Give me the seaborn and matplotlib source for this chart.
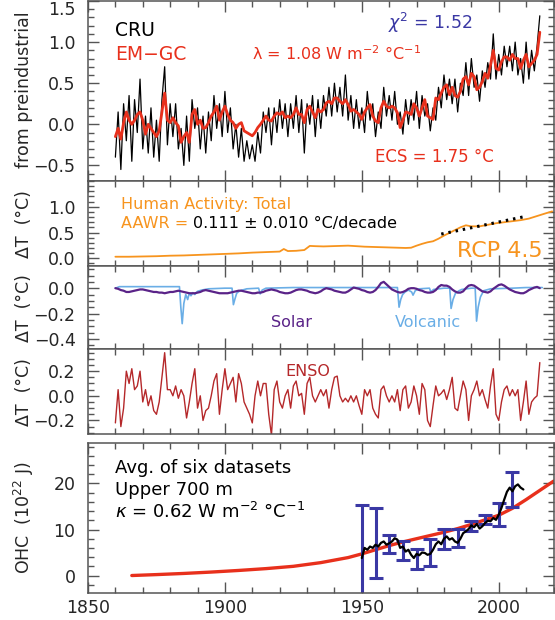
import matplotlib
matplotlib.use("Agg")
import matplotlib.pyplot as plt
from matplotlib.ticker import MultipleLocator, FixedLocator
import seaborn as sns

# ---------------- data ----------------
years = list(range(1860, 2016))

# panel 1: observed CRU and EM-GC model (deg C from preindustrial)
cru_temp = [
    -0.40, 0.15, -0.55, 0.25, -0.20, 0.35, -0.45, 0.30, -0.10, 0.55,
    -0.30, 0.10, -0.35, 0.20, -0.40, 0.05, -0.45, 0.30, 0.70, -0.25,
    0.25, -0.15, 0.25, -0.30, -0.05, -0.50, 0.10, -0.45, 0.30, -0.05,
    0.20, -0.30, 0.10, -0.35, 0.15, -0.20, 0.35, -0.05, 0.25, -0.15,
    0.40, -0.10, 0.20, -0.30, 0.00, -0.40, -0.05, -0.45, -0.20, -0.42,
    -0.25, -0.45, -0.10, -0.35, 0.15, -0.10, 0.20, -0.25, 0.20, -0.10,
    0.30, -0.05, 0.25, -0.15, 0.25, -0.05, 0.35, -0.10, 0.30, -0.35,
    0.25, 0.00, 0.35, -0.15, 0.30, -0.05, 0.35, 0.10, 0.45, 0.10,
    0.50, 0.15, 0.45, 0.10, 0.60, 0.05, 0.35, -0.05, 0.30, -0.05,
    0.20, -0.10, 0.40, 0.05, 0.25, -0.15, 0.15, -0.05, 0.45, 0.10,
    0.35, 0.05, 0.40, 0.00, 0.15, -0.12, 0.30, 0.00, 0.30, 0.05,
    0.40, -0.05, 0.35, 0.10, 0.25, -0.08, 0.20, 0.05, 0.45, 0.20,
    0.60, 0.30, 0.55, 0.25, 0.55, 0.15, 0.50, 0.35, 0.75, 0.35,
    0.80, 0.45, 0.60, 0.28, 0.65, 0.45, 0.75, 0.55, 1.10, 0.55,
    0.85, 0.60, 0.95, 0.70, 0.95, 0.65, 1.00, 0.60, 0.80, 0.50,
    1.00, 0.55, 0.90, 0.65, 0.95, 1.32,
]
emgc_temp = [
    -0.15, -0.05, -0.18, 0.02, 0.15, 0.05, 0.00, 0.05, 0.12, 0.15,
    0.05, -0.12, 0.00, -0.05, -0.10, -0.15, -0.08, 0.15, 0.38, 0.05,
    0.02, 0.08, 0.02, -0.02, -0.22, -0.15, -0.10, -0.22, 0.12, 0.18,
    0.00, 0.05, -0.05, -0.04, 0.02, 0.10, 0.15, 0.22, 0.05, 0.15,
    0.22, 0.12, 0.05, 0.02, -0.05, 0.00, 0.02, -0.08, -0.10, -0.12,
    -0.14, -0.10, -0.04, 0.00, 0.05, 0.10, 0.05, 0.04, 0.10, 0.14,
    0.12, 0.15, 0.08, 0.10, 0.08, 0.12, 0.20, 0.12, 0.12, 0.02,
    0.18, 0.22, 0.15, 0.08, 0.18, 0.15, 0.18, 0.26, 0.28, 0.25,
    0.32, 0.32, 0.28, 0.25, 0.30, 0.24, 0.16, 0.18, 0.15, 0.12,
    0.06, 0.15, 0.20, 0.24, 0.10, 0.04, 0.02, 0.20, 0.28, 0.22,
    0.20, 0.22, 0.20, 0.14, -0.04, 0.05, 0.15, 0.14, 0.12, 0.25,
    0.20, 0.10, 0.20, 0.30, 0.10, 0.08, 0.06, 0.32, 0.30, 0.38,
    0.45, 0.48, 0.36, 0.45, 0.35, 0.33, 0.40, 0.55, 0.58, 0.48,
    0.62, 0.58, 0.42, 0.45, 0.52, 0.62, 0.56, 0.72, 0.90, 0.68,
    0.66, 0.76, 0.82, 0.82, 0.78, 0.85, 0.80, 0.80, 0.68, 0.78,
    0.85, 0.70, 0.74, 0.78, 0.85, 1.12,
]

# panel 2: human activity (total) and AAWR trend
human_years = [1860, 1865, 1870, 1875, 1880, 1885, 1890, 1895, 1900, 1905,
               1910, 1915, 1920, 1921.5, 1923, 1926, 1929, 1931, 1933, 1936,
               1939, 1942, 1945, 1948, 1951, 1954, 1957, 1960, 1963, 1966,
               1968, 1970, 1972, 1974, 1976, 1978, 1980, 1983, 1986, 1988,
               1990, 1993, 1996, 1999, 2002, 2005, 2008, 2011, 2014, 2017,
               2019.5]
human_dt = [0.03, 0.03, 0.035, 0.04, 0.05, 0.055, 0.065, 0.075, 0.085, 0.095,
            0.11, 0.12, 0.13, 0.18, 0.14, 0.145, 0.16, 0.24, 0.235, 0.23,
            0.235, 0.24, 0.245, 0.235, 0.225, 0.22, 0.215, 0.21, 0.205, 0.20,
            0.205, 0.245, 0.28, 0.31, 0.33, 0.38, 0.44, 0.52, 0.60, 0.64,
            0.62, 0.62, 0.65, 0.68, 0.70, 0.72, 0.74, 0.77, 0.82, 0.87,
            0.91]
trend_years = [1979, 2010]
trend_dt = [0.47, 0.815]

# panel 3: solar and volcanic
solar_dt = [
    0.000, -0.005, -0.015, -0.020, -0.030, -0.030, -0.025, -0.020, -0.015, -0.010,
    -0.010, -0.015, -0.020, -0.025, -0.030, -0.030, -0.035, -0.035, -0.040, -0.035,
    -0.030, -0.030, -0.025, -0.020, -0.025, -0.030, -0.035, -0.040, -0.040, -0.040,
    -0.035, -0.030, -0.020, -0.015, -0.020, -0.025, -0.030, -0.035, -0.040, -0.040,
    -0.040, -0.040, -0.035, -0.030, -0.025, -0.020, -0.020, -0.025, -0.030, -0.035,
    -0.040, -0.040, -0.035, -0.035, -0.030, -0.020, -0.015, -0.010, -0.015, -0.020,
    -0.030, -0.035, -0.040, -0.040, -0.035, -0.025, -0.015, -0.010, -0.010, -0.015,
    -0.020, -0.030, -0.035, -0.040, -0.035, -0.025, -0.010, 0.000, -0.005, -0.010,
    -0.020, -0.025, -0.030, -0.035, -0.035, -0.025, -0.010, 0.005, 0.000, -0.005,
    -0.015, -0.020, -0.030, -0.035, -0.030, -0.015, 0.010, 0.040, 0.050, 0.030,
    0.010, -0.010, -0.020, -0.030, -0.035, -0.030, -0.020, -0.005, 0.000, 0.000,
    -0.005, -0.015, -0.020, -0.030, -0.035, -0.035, -0.030, -0.015, 0.010, 0.025,
    0.020, 0.020, 0.010, -0.010, -0.025, -0.035, -0.035, -0.025, 0.000, 0.020,
    0.025, 0.020, 0.005, -0.010, -0.025, -0.030, -0.035, -0.025, -0.005, 0.010,
    0.025, 0.030, 0.020, 0.005, -0.010, -0.020, -0.030, -0.035, -0.040, -0.040,
    -0.030, -0.015, -0.005, 0.005, 0.010, 0.000,
]
volc_years = [1860, 1861.5, 1870, 1880, 1883.4, 1883.9, 1884.4, 1885.0, 1885.7, 1886.4,
              1887.0, 1887.6, 1888.3, 1889.0, 1890.0, 1891.5, 1894, 1900, 1902.6, 1903.1,
              1903.6, 1904.3, 1905.5, 1908, 1912.3, 1912.9, 1913.6, 1915, 1925, 1935,
              1945, 1955, 1963.0, 1963.6, 1964.2, 1964.9, 1965.8, 1967.0, 1968.2, 1968.7,
              1969.5, 1971, 1974.7, 1975.2, 1976.2, 1980, 1982.1, 1982.6, 1983.3, 1984.2,
              1985.5, 1986.5, 1990, 1991.4, 1991.9, 1992.5, 1993.3, 1994.5, 1997, 2005,
              2010, 2015.9]
volc_dt = [0.0, 0.012, 0.012, 0.012, 0.012, -0.15, -0.28, -0.12, -0.05, -0.09,
           -0.04, -0.06, -0.035, -0.05, -0.025, -0.015, -0.005, 0.0, 0.0, -0.13,
           -0.09, -0.04, -0.02, -0.005, 0.0, -0.045, -0.015, 0.0, 0.005, 0.005,
           0.005, 0.005, 0.005, -0.15, -0.09, -0.05, -0.03, -0.015, -0.03, -0.055,
           -0.02, -0.005, 0.0, -0.03, -0.01, 0.0, 0.0, -0.16, -0.09, -0.04,
           -0.02, -0.01, 0.0, 0.0, -0.26, -0.15, -0.07, -0.02, -0.005, 0.0,
           0.005, 0.005]

# panel 4: ENSO
enso_dt = [
    -0.22, 0.05, -0.25, -0.10, 0.20, 0.10, 0.22, 0.05, 0.08, 0.20,
    -0.05, 0.05, -0.08, 0.00, -0.12, -0.15, -0.05, 0.15, 0.35, 0.05,
    0.05, 0.00, 0.08, -0.02, 0.05, 0.00, -0.18, -0.05, 0.10, 0.22,
    -0.10, 0.00, -0.20, -0.12, -0.10, 0.00, 0.12, 0.18, -0.15, 0.05,
    0.22, 0.05, 0.10, 0.15, -0.05, 0.18, 0.10, -0.05, -0.10, -0.15,
    -0.22, 0.00, 0.12, 0.00, 0.10, 0.10, -0.15, -0.32, 0.05, 0.12,
    -0.05, -0.10, 0.00, 0.05, -0.10, 0.08, 0.12, 0.00, 0.02, -0.15,
    0.10, 0.15, 0.00, -0.05, 0.00, 0.05, 0.00, 0.05, -0.10, 0.05,
    0.15, 0.16, 0.00, -0.05, -0.02, -0.05, 0.00, -0.05, 0.00, -0.08,
    -0.15, 0.05, 0.00, 0.05, -0.10, -0.15, -0.18, 0.05, 0.08, 0.00,
    -0.05, 0.00, -0.05, 0.05, -0.12, 0.05, 0.08, -0.10, -0.05, 0.08,
    0.00, -0.15, 0.10, 0.05, -0.20, -0.25, -0.08, 0.08, 0.00, 0.02,
    0.05, -0.03, 0.05, 0.15, -0.10, -0.12, 0.00, 0.12, 0.05, -0.20,
    0.00, 0.05, 0.12, 0.00, 0.05, -0.03, -0.10, 0.08, 0.22, -0.15,
    -0.20, -0.05, 0.05, 0.08, 0.00, 0.05, 0.00, 0.05, -0.20, -0.05,
    0.12, -0.15, -0.05, -0.02, 0.00, 0.27,
]

# panel 5: ocean heat content
ohc_model_years = [1866, 1875, 1885, 1895, 1905, 1915, 1925, 1935, 1945, 1950,
                   1955, 1960, 1965, 1970, 1975, 1980, 1985, 1990, 1995, 2000,
                   2005, 2010, 2015, 2020]
ohc_model = [0.0, 0.2, 0.45, 0.75, 1.1, 1.5, 2.0, 2.8, 3.9, 4.7,
             5.6, 6.5, 7.3, 8.0, 8.7, 9.4, 10.2, 11.1, 12.1, 13.1,
             14.6, 16.5, 18.5, 20.5]
ohc_obs_years = list(range(1950, 2010))
ohc_obs = [3.8, 6.0, 5.6, 6.3, 6.0, 6.7, 6.3, 7.1, 7.4, 6.7,
           7.0, 7.4, 8.1, 7.8, 6.0, 6.3, 5.2, 5.6, 4.5, 3.8,
           4.7, 4.4, 5.0, 4.9, 4.5, 4.7, 5.6, 6.8, 7.4, 6.8,
           8.0, 8.5, 7.8, 8.1, 7.4, 7.1, 8.0, 9.2, 9.6, 10.1,
           10.9, 10.5, 11.2, 10.2, 10.7, 11.4, 11.9, 11.8, 12.5, 12.1,
           13.2, 14.7, 16.5, 18.2, 19.1, 18.3, 19.4, 19.8, 19.1, 18.7]
ohc_bar_years = [1950, 1955, 1960, 1965, 1970, 1975, 1980, 1985, 1990, 1995, 2000, 2005]
ohc_bar_mid = [5.0, 7.05, 6.9, 5.45, 3.55, 5.05, 7.95, 8.25, 10.8, 12.1, 13.25, 18.7]
ohc_bar_err = [10.4, 7.65, 2.0, 2.15, 2.15, 2.95, 2.25, 1.95, 1.1, 1.0, 2.55, 3.8]

# ---------------- styling ----------------
sns.set_style("ticks")
plt.rcParams["font.family"] = ["DejaVu Sans"]
plt.rcParams["mathtext.fontset"] = "dejavusans"

RED = "#e8301c"
ORANGE = "#f7941e"
PURPLE = "#5a2388"
LBLUE = "#6aaee6"
ENSO_RED = "#b5282a"
BLUE = "#3a38a4"
FRAME = "#555555"

W, H = 555, 620
fig = plt.figure(figsize=(W / 100, H / 100), dpi=100)


def panel(top, bottom):
    return fig.add_axes([88 / W, 1 - bottom / H, 465.5 / W, (bottom - top) / H])


def put(x, y, s, **kw):
    kw.setdefault("va", "center_baseline")
    fig.text(x / W, 1 - y / H, s, **kw)


def style(ax, ylim, yticks, ylabels, minor):
    ax.set_xlim(1850, 2020)
    ax.set_ylim(*ylim)
    ax.xaxis.set_major_locator(FixedLocator([1850, 1900, 1950, 2000]))
    ax.xaxis.set_minor_locator(MultipleLocator(10))
    ax.set_yticks(yticks, labels=ylabels)
    ax.yaxis.set_minor_locator(MultipleLocator(minor))
    ax.tick_params(which="both", direction="in", top=True, right=True,
                   color=FRAME, width=1, labelsize=12.5)
    ax.tick_params(which="major", length=8)
    ax.tick_params(which="minor", length=4)
    ax.tick_params(axis="y", pad=9)
    ax.tick_params(axis="x", pad=4, labelbottom=False)
    for sp in ax.spines.values():
        sp.set_color(FRAME)
        sp.set_linewidth(1.1)
    ax.set_xlabel("")
    ax.set_ylabel("")


# panel 1
ax1 = panel(1, 181)
sns.lineplot(x=years, y=cru_temp, ax=ax1, color="black", lw=0.9, estimator=None)
sns.lineplot(x=years, y=emgc_temp, ax=ax1, color=RED, lw=2.0, estimator=None)
style(ax1, (-0.69, 1.5), [-0.5, 0.0, 0.5, 1.0, 1.5],
      ["\u22120.5", "0.0", "0.5", "1.0", "1.5"], 0.1)
ax1.get_yticklabels()[-1].set_va("top")

# panel 2
ax2 = panel(181, 266)
sns.lineplot(x=human_years, y=human_dt, ax=ax2, color=ORANGE, lw=1.3, estimator=None)
sns.lineplot(x=trend_years, y=trend_dt, ax=ax2, color="black", lw=2.2,
             linestyle=(0, (0.8, 1.6)), estimator=None)
style(ax2, (-0.15, 1.5), [0.0, 0.5, 1.0], ["0.0", "0.5", "1.0"], 0.1)

# panel 3
ax3 = panel(266, 349)
sns.lineplot(x=volc_years, y=volc_dt, ax=ax3, color=LBLUE, lw=1.2, estimator=None)
sns.lineplot(x=years, y=solar_dt, ax=ax3, color=PURPLE, lw=1.6, estimator=None)
style(ax3, (-0.48, 0.175), [-0.4, -0.2, 0.0], ["\u22120.4", "\u22120.2", "0.0"], 0.05)

# panel 4
ax4 = panel(349, 434)
sns.lineplot(x=years, y=enso_dt, ax=ax4, color=ENSO_RED, lw=1.0, estimator=None)
style(ax4, (-0.31, 0.38), [-0.2, 0.0, 0.2], ["\u22120.2", "0.0", "0.2"], 0.05)

# panel 5
ax5 = panel(443, 593)
sns.lineplot(x=ohc_model_years, y=ohc_model, ax=ax5, color=RED, lw=2.4, estimator=None)
ax5.errorbar(ohc_bar_years, ohc_bar_mid, yerr=ohc_bar_err, fmt="none",
             ecolor=BLUE, elinewidth=2.2, capsize=5, capthick=2.2)
sns.lineplot(x=ohc_obs_years, y=ohc_obs, ax=ax5, color="black", lw=1.6, estimator=None)
style(ax5, (-3.8, 28.8), [0, 10, 20], ["0", "10", "20"], 2)
ax5.tick_params(axis="x", labelbottom=True)

# axis titles
put(24, 90, "from preindustrial", rotation=90, ha="center", va="center", fontsize=12.5)
for yc in (224, 308, 392):
    put(24, yc, "\u0394T  (\u00b0C)", rotation=90, ha="center", va="center", fontsize=12.5)
put(24, 518, "OHC  (10$^{22}$ J)", rotation=90, ha="center", va="center", fontsize=12.5)

# annotations
put(115, 28, "CRU", fontsize=13.5, color="black")
put(115, 52, "EM\u2212GC", fontsize=13.5, color=RED)
put(252, 52, "\u03bb = 1.08 W m$^{-2}$ \u00b0C$^{-1}$", fontsize=11.5, color=RED)
put(388, 20, "$\\chi^2$ = 1.52", fontsize=12.5, color=BLUE)
put(375, 155, "ECS = 1.75 \u00b0C", fontsize=12, color=RED)

put(121, 203, "Human Activity: Total", fontsize=11.5, color=ORANGE)
put(121, 222, "AAWR = ", fontsize=11.5, color=ORANGE)
put(193, 222, "0.111 \u00b1 0.010 \u00b0C/decade", fontsize=11.5, color="black")
put(543, 249, "RCP 4.5", fontsize=16, color=ORANGE, ha="right")

put(271, 321, "Solar", fontsize=11.5, color=PURPLE)
put(395, 321, "Volcanic", fontsize=11.5, color=LBLUE)
put(285, 370, "ENSO", fontsize=11.5, color=ENSO_RED)

put(115, 466, "Avg. of six datasets", fontsize=13, color="black")
put(115, 488, "Upper 700 m", fontsize=13, color="black")
put(115, 510, "$\\kappa$ = 0.62 W m$^{-2}$ \u00b0C$^{-1}$", fontsize=13, color="black")

fig.savefig("out.png", dpi=100)
